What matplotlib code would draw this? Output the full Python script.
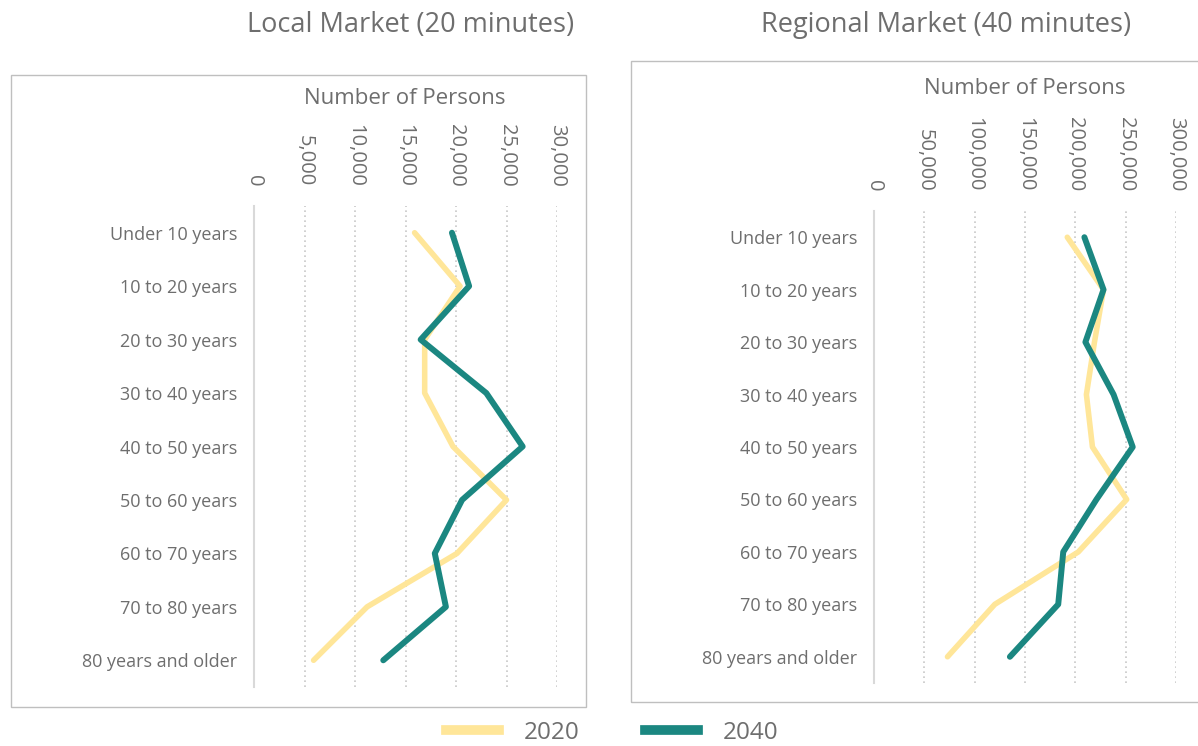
import numpy as np
import matplotlib.pyplot as plt
from matplotlib.patches import Rectangle
from matplotlib.lines import Line2D

plt.rcParams['font.family'] = ['Open Sans', 'DejaVu Sans']

age_groups = ['Under 10 years', '10 to 20 years', '20 to 30 years', '30 to 40 years',
              '40 to 50 years', '50 to 60 years', '60 to 70 years', '70 to 80 years',
              '80 years and older']

local_2020 = [15900, 20400, 16900, 16900, 19700, 25000, 20100, 11200, 5900]
local_2040 = [19600, 21300, 16500, 23000, 26600, 20600, 17900, 19000, 12800]
regional_2020 = [192000, 228000, 219000, 211000, 217000, 251000, 203000, 120000, 73000]
regional_2040 = [209000, 228000, 210000, 238000, 257000, 221000, 188000, 183000, 135000]

local_ticks = [0, 5000, 10000, 15000, 20000, 25000, 30000]
regional_ticks = [0, 50000, 100000, 150000, 200000, 250000, 300000]

yellow = '#FFE699'
teal = '#1B8781'
text_col = '#6E6E6E'
W, H = 1198, 746

fig = plt.figure(figsize=(W / 100, H / 100), dpi=100)


def px_axes(x0, x1, y0, y1):
    return fig.add_axes([x0 / W, 1 - y1 / H, (x1 - x0) / W, (y1 - y0) / H])


def draw_panel(ax, v2020, v2040, ticks):
    idx = np.arange(len(age_groups))
    ax.plot(v2020, idx, color=yellow, lw=4.0, solid_capstyle='round', zorder=3)
    ax.plot(v2040, idx, color=teal, lw=4.3, solid_capstyle='round', zorder=4)
    ax.set_xlim(ticks[0], ticks[-1])
    ax.set_ylim(len(age_groups) - 0.5, -0.5)
    ax.set_yticks(idx)
    ax.set_yticklabels(age_groups, fontsize=13, color=text_col)
    ax.xaxis.tick_top()
    ax.set_xticks(ticks)
    ax.set_xticklabels(['{:,}'.format(t) for t in ticks], rotation=-90,
                       fontsize=14.5, color=text_col)
    ax.tick_params(axis='both', length=0)
    ax.tick_params(axis='x', pad=14)
    ax.tick_params(axis='y', pad=12)
    for s in ['top', 'right', 'bottom']:
        ax.spines[s].set_visible(False)
    ax.spines['left'].set_color('#D9D9D9')
    ax.spines['left'].set_linewidth(1.5)
    for t in ticks[1:]:
        ax.axvline(t, color='#C8C8C8', lw=1.2, ls=(0, (1, 2)), zorder=1)
    ax.set_facecolor('none')


# panel frames
fig.patches.append(Rectangle((11 / W, 1 - 707 / H), (586 - 11) / W, (707 - 75) / H,
                             transform=fig.transFigure, fill=False, ec='#BFBFBF', lw=1))
fig.patches.append(Rectangle((631 / W, 1 - 702 / H), (1210 - 631) / W, (702 - 61) / H,
                             transform=fig.transFigure, fill=False, ec='#BFBFBF', lw=1))

ax1 = px_axes(254, 557, 206, 687)
draw_panel(ax1, local_2020, local_2040, local_ticks)
ax2 = px_axes(874, 1176, 211, 683)
draw_panel(ax2, regional_2020, regional_2040, regional_ticks)

fig.text(411 / W, 1 - 25 / H, 'Local Market (20 minutes)', ha='center', va='center',
         fontsize=19.5, color=text_col)
fig.text(946 / W, 1 - 25 / H, 'Regional Market (40 minutes)', ha='center', va='center',
         fontsize=19.5, color=text_col)
fig.text(405 / W, 1 - 98 / H, 'Number of Persons', ha='center', va='center',
         fontsize=16, color=text_col)
fig.text(1025 / W, 1 - 88 / H, 'Number of Persons', ha='center', va='center',
         fontsize=16, color=text_col)

handles = [Line2D([], [], color=yellow, lw=7), Line2D([], [], color=teal, lw=7)]
fig.legend(handles, ['2020', '2040'], loc='center', bbox_to_anchor=(612 / W, 1 - 733 / H),
           ncol=2, frameon=False, fontsize=17.5, handlelength=2.2, columnspacing=2.7,
           handletextpad=1.0, labelcolor=text_col)

fig.savefig('out.png', dpi=100)
